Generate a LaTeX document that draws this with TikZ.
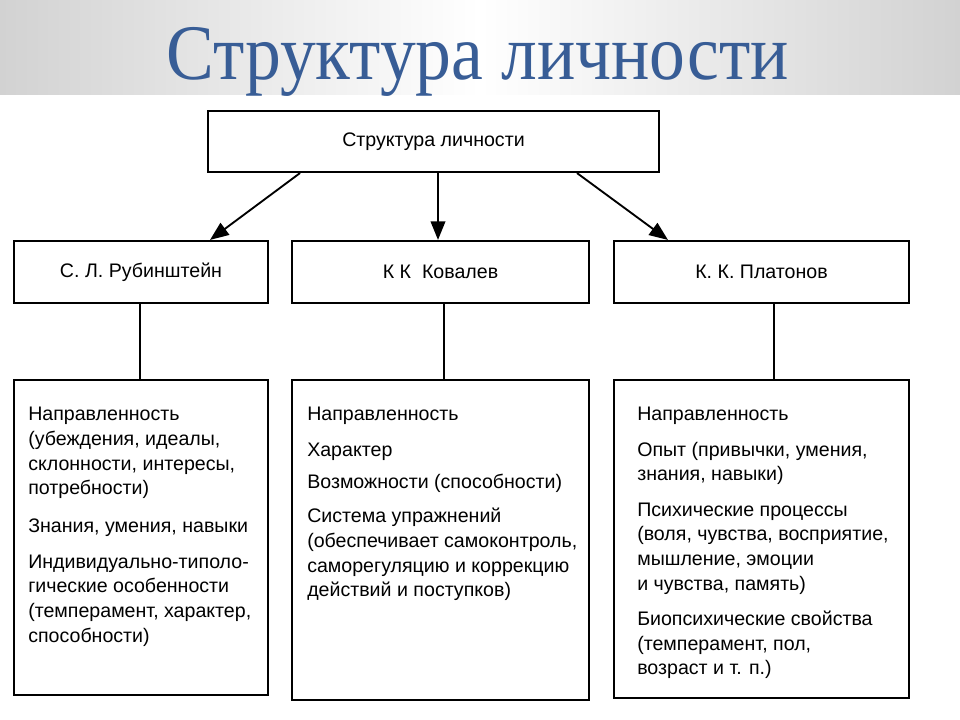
\documentclass[tikz,border=0pt]{standalone}
\usepackage{fontspec}
\setmainfont{Liberation Sans}
\newfontfamily\titlefont[FakeStretch=0.91]{Liberation Serif}
\usetikzlibrary{arrows.meta}
\newdimen\pu \pu=0.75pt
\definecolor{titleblue}{RGB}{56,93,150}
\definecolor{bandgray}{RGB}{210,210,210}
\begin{document}
\begin{tikzpicture}[x=0.75pt,y=-0.75pt,
  box/.style={draw=black, line width=1.6pt, inner sep=0pt, font=\fontsize{14.7}{18.5}\selectfont},
  conn/.style={draw=black, line width=1.4pt},
  arr/.style={conn, -{Triangle[length=14pt,width=11pt]}},
  body/.style={inner sep=0pt, align=left, anchor=north west, font=\fontsize{14.7}{18.5}\selectfont}
]
\useasboundingbox (0,0) rectangle (960,720);
\fill[white] (0,0) rectangle (960,720);
\shade[left color=bandgray, right color=bandgray, middle color=white] (0,0) rectangle (960,95);
\node[anchor=base, text=titleblue, inner sep=0pt, font=\titlefont\fontsize{59}{62}\selectfont] (title) at (477.5,80) {Структура личности};

\node[box, minimum width=451\pu, minimum height=61\pu] (top) at (433.5,141.5) {Структура личности};

\node[box, minimum width=254\pu, minimum height=62\pu] (rub) at (141,272) {С. Л. Рубинштейн};
\node[box, minimum width=297\pu, minimum height=62\pu] (kov) at (440.5,272) {К К\ \ Ковалев};
\node[box, minimum width=295\pu, minimum height=62\pu] (pla) at (761.5,272) {К. К. Платонов};

\node[box, minimum width=254\pu, minimum height=315\pu] (rubL) at (141,537.5) {};
\node[box, minimum width=297\pu, minimum height=320\pu] (kovL) at (440.5,540) {};
\node[box, minimum width=295\pu, minimum height=318\pu] (plaL) at (761.5,539) {};

\draw[arr] ([xshift=-133.5\pu]top.south) -- ([xshift=69\pu]rub.north);
\draw[arr] ([xshift=4.5\pu]top.south) -- ([xshift=-2.5\pu]kov.north);
\draw[arr] ([xshift=143.5\pu]top.south) -- ([xshift=-93.5\pu]pla.north);

\draw[conn] ([xshift=-1\pu]rub.south) -- ([xshift=-1\pu]rubL.north);
\draw[conn] ([xshift=3.5\pu]kov.south) -- ([xshift=3.5\pu]kovL.north);
\draw[conn] ([xshift=12.5\pu]pla.south) -- ([xshift=12.5\pu]plaL.north);

\node[body] (rubT) at (28,407) {Направленность\\
(убеждения, идеалы,\\
склонности, интересы,\\
потребности)\\[10pt]
Знания, умения, навыки\\[8pt]
Индивидуально-типоло-\\
гические особенности\\
(темперамент, характер,\\
способности)};

\node[body] (kovT) at (307,407) {Направленность\\[8pt]
Характер\\[6pt]
Возможности (способности)\\[7pt]
Система упражнений\\
(обеспечивает самоконтроль,\\
саморегуляцию и коррекцию\\
действий и поступков)};

\node[body] (plaT) at (637,407) {Направленность\\[8pt]
Опыт (привычки, умения,\\
знания, навыки)\\[8pt]
Психические процессы\\
(воля, чувства, восприятие,\\
мышление, эмоции\\
и чувства, память)\\[8pt]
Биопсихические свойства\\
(темперамент, пол,\\
возраст и т. п.)};
\end{tikzpicture}
\end{document}
